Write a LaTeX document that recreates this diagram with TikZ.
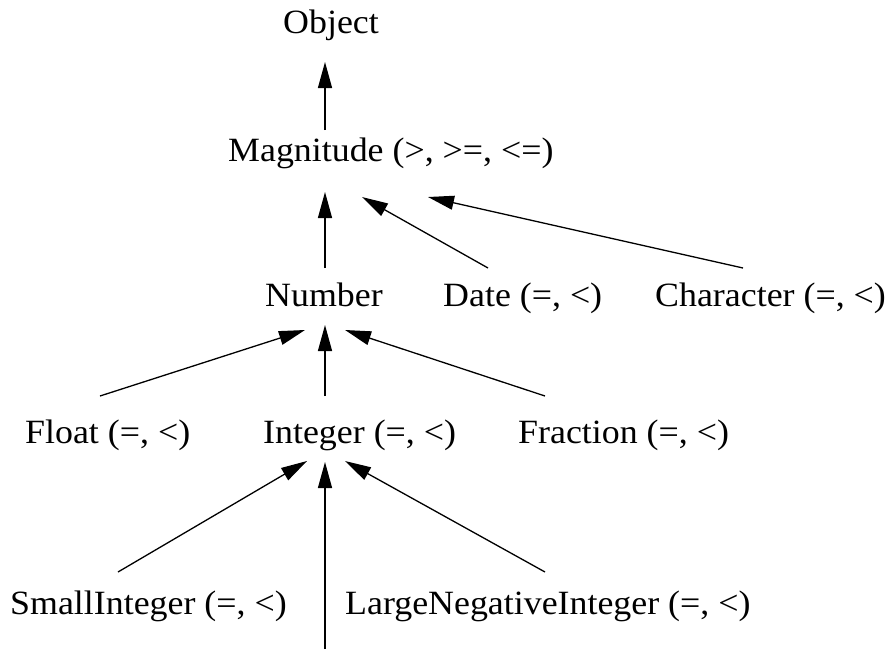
\documentclass[tikz,border=0pt]{standalone}
\usepackage{fontspec}
\setmainfont[FakeStretch=1.055]{Liberation Serif}
\usetikzlibrary{arrows.meta}
\begin{document}
\begin{tikzpicture}[x=1pt,y=-1pt,
  lbl/.style={inner sep=0pt,anchor=base west,font=\fontsize{34}{40}\selectfont},
  isa/.style={line width=1.3pt,-{Triangle[length=26pt,width=14pt]}}]
\useasboundingbox (0,0) rectangle (888,649);
\node[lbl] (obj) at (283,33) {Object};
\node[lbl] (mag) at (228,161) {Magnitude (>, >=, <=)};
\node[lbl] (num) at (265,306) {Number};
\node[lbl] (date) at (443,306) {Date (=, <)};
\node[lbl] (chr) at (655,306) {Character (=, <)};
\node[lbl] (flt) at (25,443) {Float (=, <)};
\node[lbl] (int) at (263,443) {Integer (=, <)};
\node[lbl] (frac) at (518,443) {Fraction (=, <)};
\node[lbl] (small) at (10,614) {SmallInteger (=, <)};
\node[lbl] (large) at (345,614) {LargeNegativeInteger (=, <)};
% endpoints
\coordinate (objIn) at (325,62);
\coordinate (magOut) at (325,130);
\coordinate (magInN) at (325,192);
\coordinate (magInD) at (362,197);
\coordinate (magInC) at (428,197);
\coordinate (numOut) at (325,268);
\coordinate (dateOut) at (488,268);
\coordinate (chrOut) at (743,268);
\coordinate (numInF) at (305,330);
\coordinate (numInI) at (325,325);
\coordinate (numInR) at (345,330);
\coordinate (fltOut) at (100,396);
\coordinate (intOut) at (325,396);
\coordinate (fracOut) at (545,396);
\coordinate (intInS) at (307,461);
\coordinate (intInV) at (325,462);
\coordinate (intInL) at (345,461);
\coordinate (smallOut) at (118,572);
\coordinate (bottom) at (325,649);
\coordinate (largeOut) at (545,572);
\draw[isa] (magOut) -- (objIn);
\draw[isa] (numOut) -- (magInN);
\draw[isa] (dateOut) -- (magInD);
\draw[isa] (chrOut) -- (magInC);
\draw[isa] (fltOut) -- (numInF);
\draw[isa] (intOut) -- (numInI);
\draw[isa] (fracOut) -- (numInR);
\draw[isa] (smallOut) -- (intInS);
\draw[isa] (bottom) -- (intInV);
\draw[isa] (largeOut) -- (intInL);
\end{tikzpicture}
\end{document}
